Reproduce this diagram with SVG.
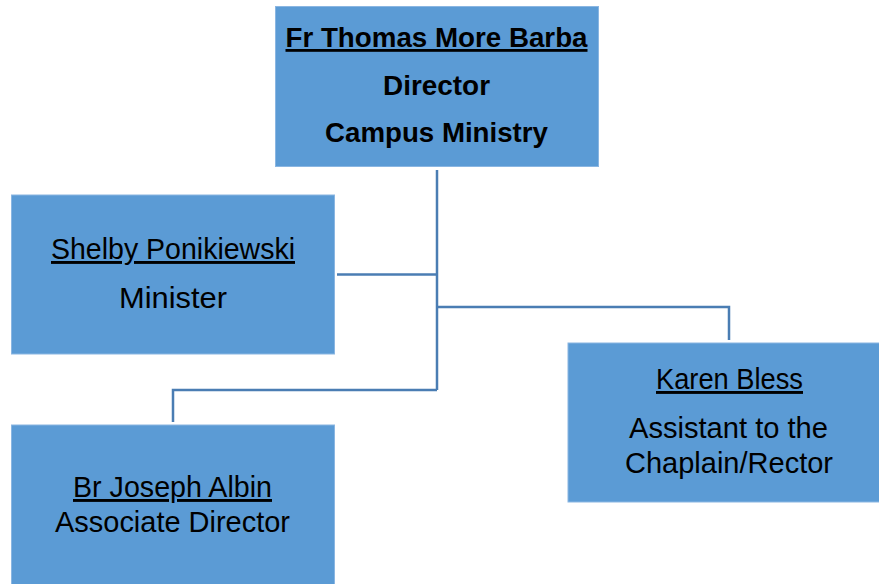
<svg xmlns="http://www.w3.org/2000/svg" width="879" height="584" viewBox="0 0 879 584">
<style>
.box{fill:#5b9bd5;stroke:#8ab6e2;stroke-width:1}
.t{font-family:"Liberation Sans",Arial,sans-serif;font-size:29px;fill:#000;text-anchor:middle}
.b{font-weight:bold;font-size:28px}
.u{text-decoration:underline}
.c{fill:none;stroke:#4a7db3;stroke-width:2.5}
</style>
<rect width="879" height="584" fill="#fff"/>
<g id="connectors">
<path class="c" d="M437 170 V390"/>
<path class="c" d="M337 274.5 H437"/>
<path class="c" d="M437 307 H729 V340"/>
<path class="c" d="M437 390 H173 V422"/>
</g>
<g id="director">
<rect class="box" x="275.5" y="6.5" width="323" height="160"/>
<text class="t b u" x="436.5" y="47" textLength="302" lengthAdjust="spacingAndGlyphs">Fr Thomas More Barba</text>
<text class="t b" x="436.5" y="95" textLength="107" lengthAdjust="spacingAndGlyphs">Director</text>
<text class="t b" x="436.5" y="142" textLength="223" lengthAdjust="spacingAndGlyphs">Campus Ministry</text>
</g>
<g id="shelby">
<rect class="box" x="11.5" y="195" width="323" height="159"/>
<text class="t u" x="173" y="259" textLength="244" lengthAdjust="spacingAndGlyphs">Shelby Ponikiewski</text>
<text class="t" x="173" y="308" textLength="108" lengthAdjust="spacingAndGlyphs">Minister</text>
</g>
<g id="joseph">
<rect class="box" x="11.5" y="425" width="323" height="165"/>
<text class="t u" x="172.5" y="497" textLength="199" lengthAdjust="spacingAndGlyphs">Br Joseph Albin</text>
<text class="t" x="172.5" y="532" textLength="235" lengthAdjust="spacingAndGlyphs">Associate Director</text>
</g>
<g id="karen">
<rect class="box" x="568" y="343" width="323" height="159"/>
<text class="t u" x="729.5" y="389" textLength="147" lengthAdjust="spacingAndGlyphs">Karen Bless</text>
<text class="t" x="728.5" y="438" textLength="199" lengthAdjust="spacingAndGlyphs">Assistant to the</text>
<text class="t" x="729" y="473" textLength="208" lengthAdjust="spacingAndGlyphs">Chaplain/Rector</text>
</g>
</svg>
